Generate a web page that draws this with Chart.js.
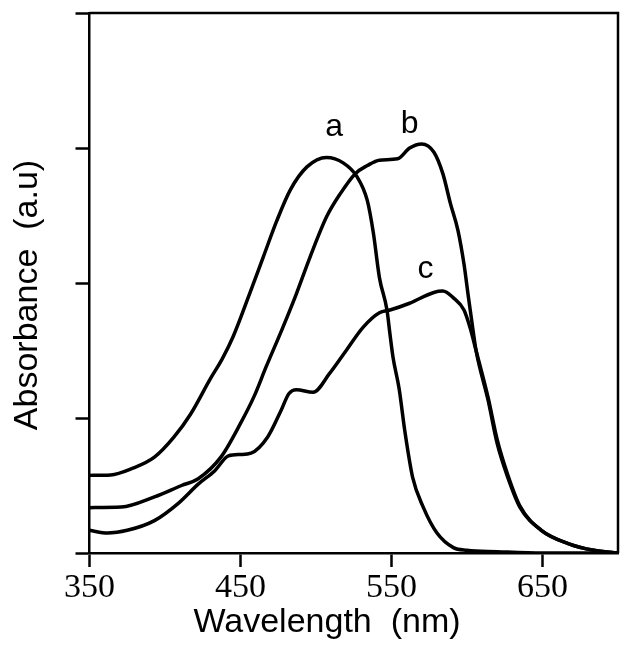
<!DOCTYPE html>
<html>
<head>
<meta charset="utf-8">
<script src="https://cdn.jsdelivr.net/npm/chart.js@4.4.0/dist/chart.umd.min.js"></script>
<style>
  html, body { margin: 0; padding: 0; background: #fff; }
  #wrap { width: 621px; height: 650px; position: relative; }
</style>
</head>
<body>
<div id="wrap"><canvas id="absorbChart"></canvas></div>
<script>
/* ======= Data ====== */
const aWave = [350, 364, 378, 393, 406, 417, 430, 438, 445, 456, 465, 474, 483, 494, 507, 518, 527, 534, 538, 542, 547, 549, 551, 555, 559, 564, 571, 580, 591, 600, 620, 650, 700];
const aAbs  = [0.575, 0.578, 0.625, 0.71, 0.86, 1.03, 1.29, 1.44, 1.60, 1.92, 2.19, 2.46, 2.69, 2.86, 2.93, 2.89, 2.79, 2.61, 2.37, 2.04, 1.80, 1.62, 1.45, 1.22, 0.89, 0.56, 0.34, 0.15, 0.04, 0.02, 0.01, 0.0, 0.0];

const bWave = [350, 371, 393, 411, 422, 437, 450, 459, 467, 478, 487, 496, 507, 516, 526, 534, 542, 554, 562, 570, 578, 584, 589, 594, 598, 601, 604, 606, 614, 620, 627, 635, 649, 667, 684, 700];
const bAbs  = [0.336, 0.34, 0.415, 0.50, 0.55, 0.71, 0.96, 1.16, 1.38, 1.67, 1.92, 2.19, 2.49, 2.66, 2.81, 2.87, 2.91, 2.92, 3.00, 3.03, 2.97, 2.81, 2.59, 2.39, 2.14, 1.89, 1.65, 1.50, 1.13, 0.81, 0.56, 0.34, 0.17, 0.07, 0.02, 0.0];

const cWave = [350, 362, 375, 393, 409, 422, 433, 442, 450, 457, 468, 477, 482, 487, 498, 509, 520, 531, 542, 549, 562, 578, 584, 591, 598, 602, 606, 614, 620, 627, 635, 649, 667, 684, 700];
const cAbs  = [0.168, 0.148, 0.168, 0.24, 0.37, 0.51, 0.61, 0.72, 0.73, 0.74, 0.86, 1.06, 1.18, 1.21, 1.19, 1.33, 1.50, 1.67, 1.78, 1.80, 1.85, 1.93, 1.94, 1.89, 1.80, 1.67, 1.50, 1.15, 0.84, 0.58, 0.35, 0.17, 0.07, 0.02, 0.0];

const xTicks = [350, 450, 550, 650];
const yTicks = [0, 1, 2, 3, 4];

// curve letters, placed in data units (wavelength, absorbance)
const curveNames = ["a", "b", "c"];
const nameWave   = [512, 562, 572.5];
const nameAbs    = [3.09, 3.11, 2.04];

function toPoints(wave, abs) {
  return wave.map(function (w, i) { return { x: w, y: abs[i] }; });
}

/* ======= Frame, axis titles, curve letters ====== */
const framePlugin = {
  id: 'framePlugin',
  afterDraw(chart) {
    const ctx = chart.ctx;
    const area = chart.chartArea;
    const xs = chart.scales.x;
    const ys = chart.scales.y;
    ctx.save();
    ctx.strokeStyle = '#000';
    ctx.lineWidth = 2.5;
    ctx.beginPath();
    ctx.moveTo(area.left, area.top);
    ctx.lineTo(area.right, area.top);
    ctx.lineTo(area.right, area.bottom);
    ctx.stroke();

    ctx.fillStyle = '#000';
    ctx.font = '34px "Liberation Sans", Arial, sans-serif';
    ctx.textAlign = 'center';
    ctx.textBaseline = 'alphabetic';
    ctx.fillText('Wavelength  (nm)', 327, 632);

    ctx.save();
    ctx.translate(37, 295);
    ctx.rotate(-Math.PI / 2);
    ctx.fillText('Absorbance  (a.u)', 0, 0);
    ctx.restore();

    ctx.font = '32px "Liberation Sans", Arial, sans-serif';
    curveNames.forEach(function (name, i) {
      ctx.fillText(name, xs.getPixelForValue(nameWave[i]), ys.getPixelForValue(nameAbs[i]));
    });
    ctx.restore();
  }
};

const curveStyle = {
  borderColor: '#000',
  borderWidth: 3.5,
  pointRadius: 0,
  fill: false,
  cubicInterpolationMode: 'monotone',
};

const ctx = document.getElementById('absorbChart');
new Chart(ctx, {
  type: 'line',
  data: {
    datasets: [
      Object.assign({ label: 'a', data: toPoints(aWave, aAbs) }, curveStyle),
      Object.assign({ label: 'b', data: toPoints(bWave, bAbs) }, curveStyle),
      Object.assign({ label: 'c', data: toPoints(cWave, cAbs) }, curveStyle),
    ],
  },
  options: {
    responsive: true,
    maintainAspectRatio: false,
    animation: false,
    layout: {
      padding: { top: 13, right: 3, left: 0, bottom: 0 },
    },
    plugins: {
      legend: { display: false },
      tooltip: { enabled: false },
    },
    scales: {
      x: {
        type: 'linear',
        min: 350,
        max: 700,
        afterBuildTicks(scale) {
          scale.ticks = xTicks.map(function (v) { return { value: v }; });
        },
        afterFit(scale) {
          scale.height = 97;
        },
        border: { display: true, color: '#000', width: 2.5 },
        grid: {
          drawOnChartArea: false,
          drawTicks: true,
          tickLength: 14,
          tickColor: '#000',
          tickWidth: 2.5,
        },
        ticks: {
          color: '#000',
          font: { family: '"Liberation Serif", "Times New Roman", serif', size: 34 },
          padding: 1,
          maxRotation: 0,
          autoSkip: false,
        },
      },
      y: {
        min: 0,
        max: 4,
        afterBuildTicks(scale) {
          scale.ticks = yTicks.map(function (v) { return { value: v }; });
        },
        afterFit(scale) {
          scale.width = 89.5;
        },
        border: { display: true, color: '#000', width: 2.5 },
        grid: {
          drawOnChartArea: false,
          drawTicks: true,
          tickLength: 14,
          tickColor: '#000',
          tickWidth: 2.5,
        },
        ticks: {
          callback() { return ''; },
        },
      },
    },
  },
  plugins: [framePlugin],
});
</script>
</body>
</html>
